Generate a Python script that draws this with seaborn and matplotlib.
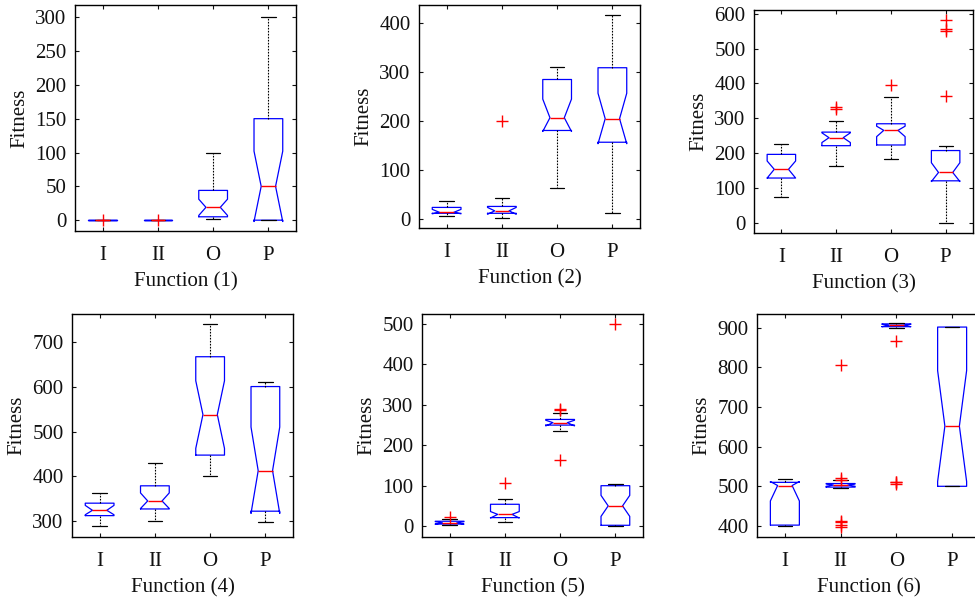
import matplotlib
matplotlib.use("Agg")
import matplotlib.pyplot as plt
import seaborn as sns

sns.set_theme(style="ticks")
plt.rcParams['font.family'] = ['Liberation Serif', 'DejaVu Serif']

categories = ["I", "II", "O", "P"]
titles = ["Function (1)", "Function (2)", "Function (3)",
          "Function (4)", "Function (5)", "Function (6)"]

# per panel, per category: q1, median, q3, whisker low, whisker high, notch low, notch high, outliers
q1 = [[0, 0, 5, 0], [12, 12, 181, 157], [128, 221, 223, 120],
      [311, 326, 447, 321], [5, 21, 250, 2], [402, 498, 903, 500]]
med = [[0, 0, 19, 50], [14, 17, 207, 205], [153, 244, 265, 144],
       [323, 344, 538, 412], [8, 29, 256, 50], [502, 503, 906, 652]]
q3 = [[0, 0, 44, 150], [24, 26, 285, 309], [196, 260, 284, 207],
      [339, 378, 668, 601], [12, 54, 264, 100], [510, 507, 910, 902]]
wlo = [[0, 0, 1, 0], [6, 2, 64, 12], [73, 164, 184, 0],
       [287, 300, 400, 296], [2, 11, 236, 0], [400, 495, 900, 500]]
whi = [[0, 0, 100, 300], [37, 44, 311, 416], [227, 293, 361, 221],
       [361, 430, 742, 612], [18, 66, 279, 103], [519, 515, 913, 902]]
clo = [[0, 0, 7, -2], [11, 10, 179, 154], [128, 230, 247, 118],
       [313, 327, 462, 316], [5, 20, 248, 24], [463, 500, 903, 512]]
chi = [[0, 0, 31, 102], [20, 24, 245, 257], [177, 258, 277, 172],
       [334, 362, 614, 510], [11, 36, 262, 76], [512, 506, 909, 792]]
outliers = [
    [[0], [0], [], []],
    [[], [200], [], []],
    [[], [327, 331], [395], [364, 551, 556, 583]],
    [[], [], [], []],
    [[22], [107], [163, 287, 291], [500]],
    [[], [398, 402, 410, 413, 517, 522, 805], [505, 510, 512, 868], []],
]
yticks = [list(range(0, 301, 50)), list(range(0, 401, 100)), list(range(0, 601, 100)),
          list(range(300, 701, 100)), list(range(0, 501, 100)), list(range(400, 901, 100))]
ylims = [(-16, 318), (-18, 437), (-30, 611), (263, 764), (-27, 525), (372, 935)]

rects = [(75, 5, 221, 226), (419, 5, 221, 223), (754, 10, 219, 223),
         (72, 314, 221, 223), (422, 314, 221, 223), (757, 314, 223, 223)]

W, H = 975, 600
fig = plt.figure(figsize=(W / 100, H / 100), dpi=100)
fig.patch.set_facecolor("white")

for p in range(6):
    x, y, w, h = rects[p]
    ax = fig.add_axes([x / W, 1 - (y + h) / H, w / W, h / H])
    ax.set_facecolor("white")
    stats = []
    for c in range(4):
        stats.append(dict(med=med[p][c], q1=q1[p][c], q3=q3[p][c],
                          whislo=wlo[p][c], whishi=whi[p][c],
                          cilo=clo[p][c], cihi=chi[p][c],
                          fliers=outliers[p][c], label=categories[c]))
    ax.bxp(stats, positions=[1, 2, 3, 4], widths=0.52, shownotches=True,
           showfliers=True,
           boxprops=dict(color="blue", linewidth=0.9),
           medianprops=dict(color="red", linewidth=1.0),
           whiskerprops=dict(color="black", linestyle=(0, (1.5, 1.2)), linewidth=0.8),
           capprops=dict(color="black", linewidth=0.9),
           flierprops=dict(marker="+", markeredgecolor="red", markersize=9,
                           markeredgewidth=1.0, linestyle="none"))
    ax.set_xlim(0.5, 4.5)
    ax.set_ylim(*ylims[p])
    ax.set_yticks(yticks[p])
    ax.set_xticks([1, 2, 3, 4])
    ax.set_xticklabels(categories)
    ax.tick_params(axis="both", direction="in", length=3, width=0.8,
                   labelsize=15, colors="#111111", top=True, right=True)
    ax.tick_params(axis="x", pad=11)
    ax.tick_params(axis="y", pad=6)
    for s in ax.spines.values():
        s.set_color("black")
        s.set_linewidth(1.0)
    ax.set_ylabel("Fitness", fontsize=15, color="#111111", labelpad=4)
    ax.set_xlabel(titles[p], fontsize=15, color="#111111", labelpad=5)

fig.savefig("out.png", dpi=100, facecolor="white")
